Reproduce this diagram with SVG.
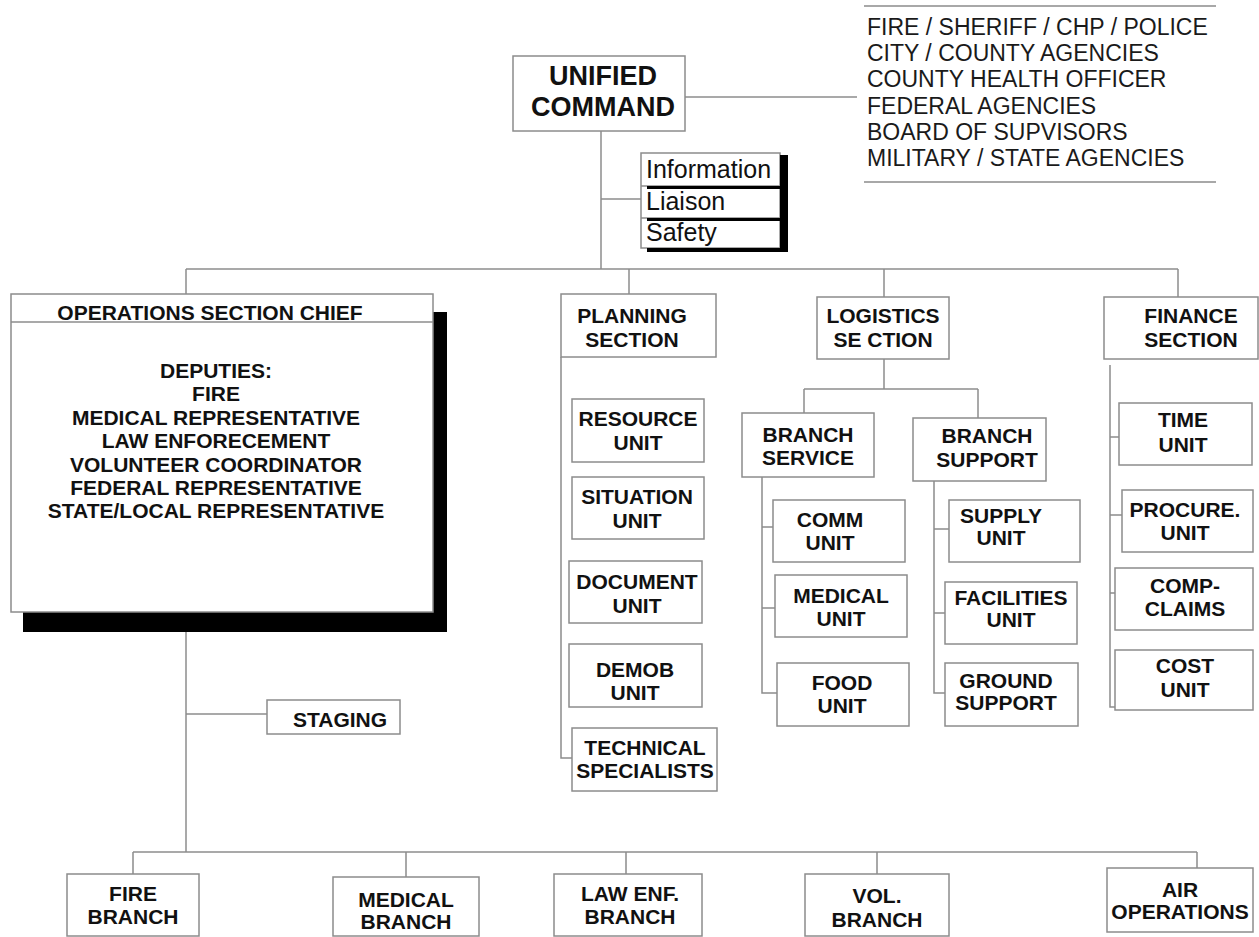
<svg xmlns="http://www.w3.org/2000/svg" width="1259" height="937" viewBox="0 0 1259 937">
<style>
.bx{fill:#fff;stroke:#8c8c8c;stroke-width:1.5}
.ln{fill:none;stroke:#8c8c8c;stroke-width:1.5}
.sh{fill:#000}
text{font-family:"Liberation Sans",Arial,Helvetica,sans-serif;fill:#111}
.b{font-weight:bold;font-size:21px;text-anchor:middle}
.big{font-weight:bold;font-size:27px;text-anchor:middle}
.r{font-size:23px;fill:#1a1a1a}
.i{font-size:25px}
</style>
<rect width="1259" height="937" fill="#fff"/>
<g id="connectors">
<path class="ln" d="M685,97H857"/>
<path class="ln" d="M601,131V269"/>
<path class="ln" d="M601,199H641"/>
<path class="ln" d="M186,269H1178"/>
<path class="ln" d="M186,269V294"/>
<path class="ln" d="M629,269V294"/>
<path class="ln" d="M884,269V297"/>
<path class="ln" d="M1178,269V297"/>
<path class="ln" d="M561,357V758H572"/>
<path class="ln" d="M884,359V389"/>
<path class="ln" d="M804,389H978"/>
<path class="ln" d="M804,389V413"/>
<path class="ln" d="M978,389V418"/>
<path class="ln" d="M762,477V693H777M762,527H773M762,608H775"/>
<path class="ln" d="M934,481V693H945M934,529H949M934,613H945"/>
<path class="ln" d="M1110,365V707H1115M1110,437H1119M1110,515H1122M1110,593H1115"/>
<path class="ln" d="M186,632V852"/>
<path class="ln" d="M186,714H267"/>
<path class="ln" d="M133,852H1197"/>
<path class="ln" d="M133,852V874M406,852V877M626,852V874M877,852V874M1197,852V868"/>
</g>
<g id="unified-command">
<rect class="bx" x="513" y="56" width="172" height="75"/>
<text class="big" x="603" y="85">UNIFIED</text>
<text class="big" x="603" y="116">COMMAND</text>
</g>
<g id="agencies">
<path class="ln" d="M864,6H1216M864,182H1216"/>
<text class="r" x="867" y="35">FIRE / SHERIFF / CHP / POLICE</text>
<text class="r" x="867" y="61">CITY / COUNTY AGENCIES</text>
<text class="r" x="867" y="87">COUNTY HEALTH OFFICER</text>
<text class="r" x="867" y="114">FEDERAL AGENCIES</text>
<text class="r" x="867" y="140">BOARD OF SUPVISORS</text>
<text class="r" x="867" y="166">MILITARY / STATE AGENCIES</text>
</g>
<g id="staff">
<rect class="bx" x="641" y="153" width="139" height="95"/>
<path class="ln" d="M641,186H780M641,218H780"/>
<rect class="sh" x="780" y="155" width="8" height="97"/>
<rect class="sh" x="647" y="186" width="141" height="3"/>
<rect class="sh" x="647" y="218" width="141" height="3"/>
<rect class="sh" x="647" y="248" width="141" height="4"/>
<text class="i" x="646" y="178">Information</text>
<text class="i" x="646" y="210">Liaison</text>
<text class="i" x="646" y="241">Safety</text>
</g>
<g id="operations">
<rect class="sh" x="23" y="312" width="424" height="320"/>
<rect class="bx" x="11" y="294" width="422" height="318"/>
<path class="ln" d="M11,322H433"/>
<text class="b" x="210" y="320">OPERATIONS SECTION CHIEF</text>
<text class="b" x="216" y="378">DEPUTIES:</text>
<text class="b" x="216" y="401">FIRE</text>
<text class="b" x="216" y="425">MEDICAL REPRESENTATIVE</text>
<text class="b" x="216" y="448">LAW ENFORECEMENT</text>
<text class="b" x="216" y="472">VOLUNTEER COORDINATOR</text>
<text class="b" x="216" y="495">FEDERAL REPRESENTATIVE</text>
<text class="b" x="216" y="518">STATE/LOCAL REPRESENTATIVE</text>
</g>
<g id="planning">
<rect class="bx" x="561" y="294" width="155" height="63"/>
<text class="b" x="632" y="323">PLANNING</text>
<text class="b" x="632" y="347">SECTION</text>
</g>
<g id="resource-unit">
<rect class="bx" x="572" y="399" width="132" height="63"/>
<text class="b" x="638" y="426">RESOURCE</text>
<text class="b" x="638" y="450">UNIT</text>
</g>
<g id="situation-unit">
<rect class="bx" x="572" y="477" width="132" height="62"/>
<text class="b" x="637" y="504">SITUATION</text>
<text class="b" x="637" y="528">UNIT</text>
</g>
<g id="document-unit">
<rect class="bx" x="569" y="561" width="133" height="62"/>
<text class="b" x="637" y="589">DOCUMENT</text>
<text class="b" x="637" y="613">UNIT</text>
</g>
<g id="demob-unit">
<rect class="bx" x="569" y="644" width="133" height="63"/>
<text class="b" x="635" y="677">DEMOB</text>
<text class="b" x="635" y="700">UNIT</text>
</g>
<g id="technical-specialists">
<rect class="bx" x="572" y="728" width="145" height="63"/>
<text class="b" x="645" y="755">TECHNICAL</text>
<text class="b" x="645" y="778">SPECIALISTS</text>
</g>
<g id="logistics">
<rect class="bx" x="817" y="297" width="132" height="62"/>
<text class="b" x="883" y="323">LOGISTICS</text>
<text class="b" x="883" y="347">SE CTION</text>
</g>
<g id="branch-service">
<rect class="bx" x="742" y="413" width="132" height="64"/>
<text class="b" x="808" y="442">BRANCH</text>
<text class="b" x="808" y="465">SERVICE</text>
</g>
<g id="branch-support">
<rect class="bx" x="913" y="418" width="133" height="63"/>
<text class="b" x="987" y="443">BRANCH</text>
<text class="b" x="987" y="467">SUPPORT</text>
</g>
<g id="comm-unit">
<rect class="bx" x="773" y="500" width="132" height="62"/>
<text class="b" x="830" y="527">COMM</text>
<text class="b" x="830" y="550">UNIT</text>
</g>
<g id="medical-unit">
<rect class="bx" x="775" y="575" width="132" height="62"/>
<text class="b" x="841" y="603">MEDICAL</text>
<text class="b" x="841" y="626">UNIT</text>
</g>
<g id="food-unit">
<rect class="bx" x="777" y="663" width="132" height="63"/>
<text class="b" x="842" y="690">FOOD</text>
<text class="b" x="842" y="713">UNIT</text>
</g>
<g id="supply-unit">
<rect class="bx" x="949" y="500" width="131" height="62"/>
<text class="b" x="1001" y="523">SUPPLY</text>
<text class="b" x="1001" y="545">UNIT</text>
</g>
<g id="facilities-unit">
<rect class="bx" x="945" y="582" width="132" height="62"/>
<text class="b" x="1011" y="605">FACILITIES</text>
<text class="b" x="1011" y="627">UNIT</text>
</g>
<g id="ground-support">
<rect class="bx" x="945" y="663" width="133" height="63"/>
<text class="b" x="1006" y="688">GROUND</text>
<text class="b" x="1006" y="710">SUPPORT</text>
</g>
<g id="finance">
<rect class="bx" x="1104" y="297" width="154" height="62"/>
<text class="b" x="1191" y="323">FINANCE</text>
<text class="b" x="1191" y="347">SECTION</text>
</g>
<g id="time-unit">
<rect class="bx" x="1119" y="403" width="133" height="62"/>
<text class="b" x="1183" y="427">TIME</text>
<text class="b" x="1183" y="452">UNIT</text>
</g>
<g id="procure-unit">
<rect class="bx" x="1122" y="490" width="131" height="62"/>
<text class="b" x="1185" y="517">PROCURE.</text>
<text class="b" x="1185" y="540">UNIT</text>
</g>
<g id="comp-claims">
<rect class="bx" x="1115" y="568" width="138" height="62"/>
<text class="b" x="1185" y="593">COMP-</text>
<text class="b" x="1185" y="616">CLAIMS</text>
</g>
<g id="cost-unit">
<rect class="bx" x="1115" y="650" width="138" height="60"/>
<text class="b" x="1185" y="673">COST</text>
<text class="b" x="1185" y="697">UNIT</text>
</g>
<g id="staging">
<rect class="bx" x="267" y="700" width="133" height="34"/>
<text class="b" x="340" y="727">STAGING</text>
</g>
<g id="fire-branch">
<rect class="bx" x="67" y="874" width="132" height="62"/>
<text class="b" x="133" y="901">FIRE</text>
<text class="b" x="133" y="924">BRANCH</text>
</g>
<g id="medical-branch">
<rect class="bx" x="333" y="877" width="146" height="59"/>
<text class="b" x="406" y="907">MEDICAL</text>
<text class="b" x="406" y="929">BRANCH</text>
</g>
<g id="law-enf-branch">
<rect class="bx" x="554" y="874" width="148" height="62"/>
<text class="b" x="630" y="901">LAW ENF.</text>
<text class="b" x="630" y="924">BRANCH</text>
</g>
<g id="vol-branch">
<rect class="bx" x="805" y="874" width="144" height="62"/>
<text class="b" x="877" y="903">VOL.</text>
<text class="b" x="877" y="927">BRANCH</text>
</g>
<g id="air-operations">
<rect class="bx" x="1107" y="868" width="146" height="64"/>
<text class="b" x="1180" y="897">AIR</text>
<text class="b" x="1180" y="919">OPERATIONS</text>
</g>
</svg>
